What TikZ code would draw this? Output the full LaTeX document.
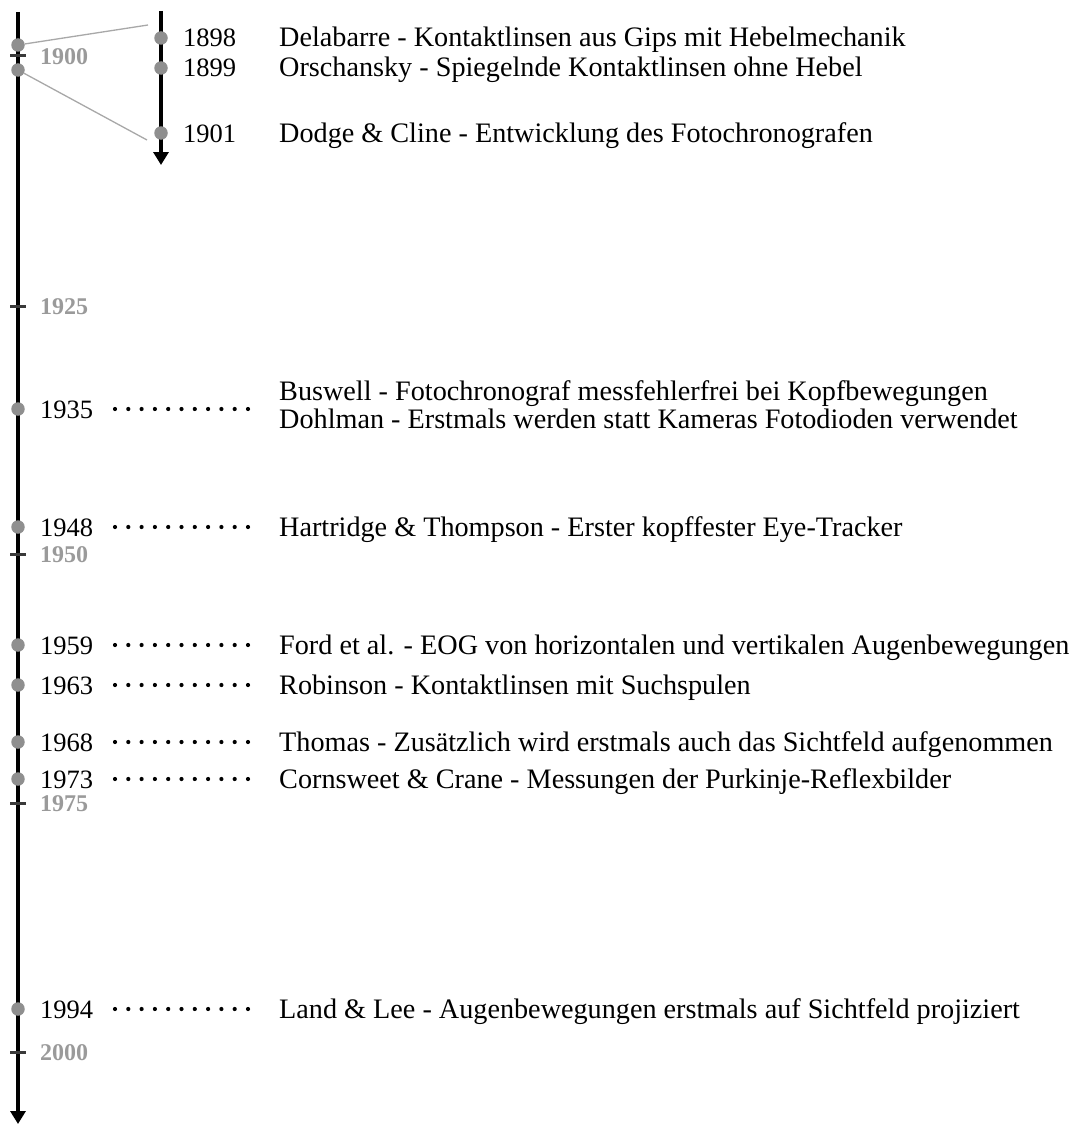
\documentclass[tikz,border=0pt]{standalone}
\usepackage{fontspec}
\setmainfont{Liberation Serif}
\usetikzlibrary{arrows.meta}
\definecolor{dotgray}{HTML}{8F8F8F}
\definecolor{labgray}{HTML}{9A9A9A}
\definecolor{tickgray}{HTML}{3A3A3A}
\definecolor{zoomgray}{HTML}{A8A8A8}
\begin{document}
\begin{tikzpicture}[x=1pt,y=-1pt,
  axis/.style={line width=3.2pt,-{Triangle[width=15pt,length=13pt]}},
  evdot/.style={circle,fill=dotgray,inner sep=0pt,minimum size=13.5pt},
  yearlab/.style={anchor=base west,inner sep=0pt,font=\fontsize{26.5}{26.5}\selectfont},
  desc/.style={anchor=base west,inner sep=0pt,font=\fontsize{28.2}{28.2}\selectfont},
  ticklab/.style={anchor=base west,inner sep=0pt,text=labgray,font=\fontsize{24}{24}\selectfont\bfseries},
  tickmark/.style={draw=tickgray,line width=3pt},
  leader/.style={line width=4.2pt,line cap=round,dash pattern=on 0pt off 13.3pt},
  zoomline/.style={draw=zoomgray,line width=1.3pt}]

\useasboundingbox (0,0) rectangle (1085,1124);

% main time axis and the enlarged 1898--1901 axis
\coordinate (mtop) at (18,12);
\coordinate (mend) at (18,1124);
\draw[axis] (mtop) -- (mend);
\coordinate (stop) at (161,11);
\coordinate (send) at (161,165);
\draw[axis] (stop) -- (send);

% quarter-century ticks
\foreach \yr/\y in {1900/56,1925/306,1950/554,1975/803,2000/1052}{
  \draw[tickmark] (10,\y) -- (26,\y);
  \node[ticklab] (t\yr) at (40,\y+8) {\yr};
}

% dots bounding the enlarged interval, with their guide lines
\node[evdot] (za) at (18,45) {};
\node[evdot] (zb) at (18,70) {};
\coordinate (zaend) at (148,25);
\coordinate (zbend) at (147,140);
\draw[zoomline] (za) -- (zaend);
\draw[zoomline] (zb) -- (zbend);

% events on the enlarged axis
\foreach \yr/\y/\txt in {
  1898/38/{Delabarre - Kontaktlinsen aus Gips mit Hebelmechanik},
  1899/68/{Orschansky - Spiegelnde Kontaktlinsen ohne Hebel},
  1901/133/{Dodge \& Cline - Entwicklung des Fotochronografen}}{
  \node[evdot] (d\yr) at (161,\y) {};
  \node[yearlab] (y\yr) at (183,\y+9) {\yr};
  \node[desc] (e\yr) at (279,\y+9) {\txt};
}

% events on the main axis
\foreach \yr/\y/\txt in {
  1948/527/{Hartridge \& Thompson - Erster kopffester Eye-Tracker},
  1959/645/{Ford et al. - EOG von horizontalen und vertikalen Augenbewegungen},
  1963/685/{Robinson - Kontaktlinsen mit Suchspulen},
  1968/742/{Thomas - Zusätzlich wird erstmals auch das Sichtfeld aufgenommen},
  1973/779/{Cornsweet \& Crane - Messungen der Purkinje-Reflexbilder},
  1994/1009/{Land \& Lee - Augenbewegungen erstmals auf Sichtfeld projiziert}}{
  \node[evdot] (d\yr) at (18,\y) {};
  \node[yearlab] (y\yr) at (40,\y+9) {\yr};
  \coordinate (la\yr) at (115,\y);
  \coordinate (lb\yr) at (248.2,\y);
  \draw[leader] (la\yr) -- (lb\yr);
  \node[desc] (e\yr) at (279,\y+9) {\txt};
}

% 1935 carries two entries
\node[evdot] (d1935) at (18,409) {};
\node[yearlab] (y1935) at (40,418) {1935};
\coordinate (la1935) at (115,409);
\coordinate (lb1935) at (248.2,409);
\draw[leader] (la1935) -- (lb1935);
\node[desc] (e1935a) at (279,400) {Buswell - Fotochronograf messfehlerfrei bei Kopfbewegungen};
\node[desc] (e1935b) at (279,428) {Dohlman - Erstmals werden statt Kameras Fotodioden verwendet};
\end{tikzpicture}
\end{document}
